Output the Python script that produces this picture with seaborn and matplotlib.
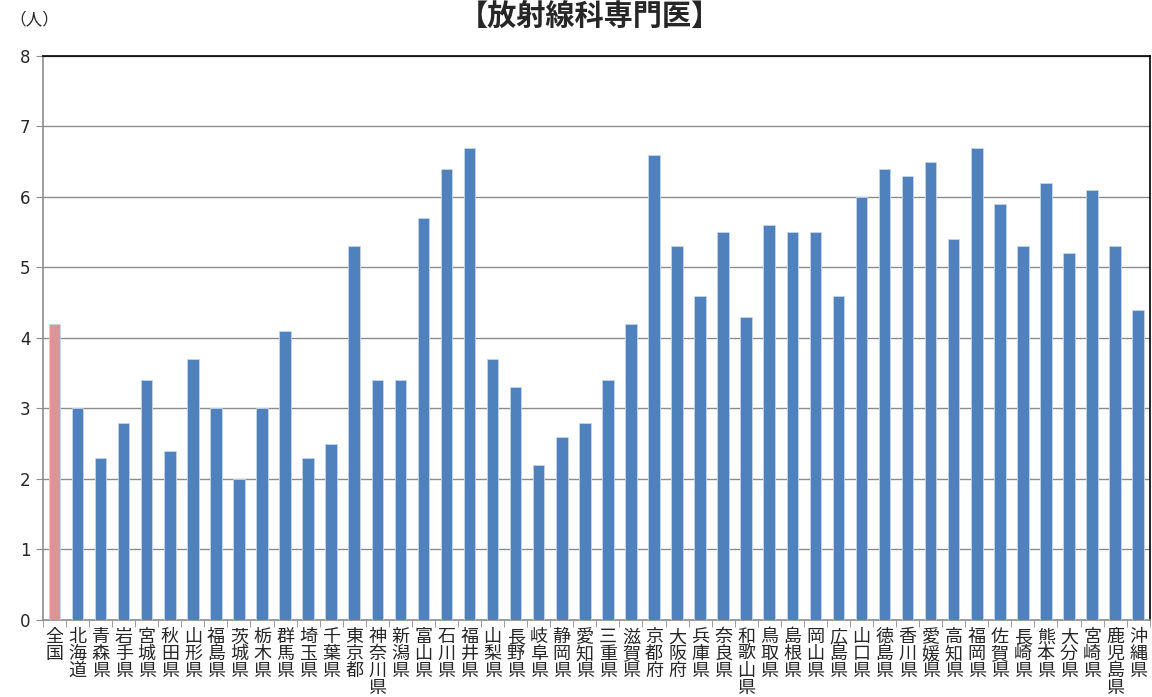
import numpy as np
import pandas as pd
import seaborn as sns
import matplotlib.pyplot as plt
from matplotlib.ticker import FixedLocator

# prefectures (全国 first)
prefs = ['全国', '北海道', '青森県', '岩手県', '宮城県', '秋田県', '山形県', '福島県',
         '茨城県', '栃木県', '群馬県', '埼玉県', '千葉県', '東京都', '神奈川県', '新潟県',
         '富山県', '石川県', '福井県', '山梨県', '長野県', '岐阜県', '静岡県', '愛知県',
         '三重県', '滋賀県', '京都府', '大阪府', '兵庫県', '奈良県', '和歌山県', '鳥取県',
         '島根県', '岡山県', '広島県', '山口県', '徳島県', '香川県', '愛媛県', '高知県',
         '福岡県', '佐賀県', '長崎県', '熊本県', '大分県', '宮崎県', '鹿児島県', '沖縄県']
vals = [4.2, 3.0, 2.3, 2.8, 3.4, 2.4, 3.7, 3.0,
        2.0, 3.0, 4.1, 2.3, 2.5, 5.3, 3.4, 3.4,
        5.7, 6.4, 6.7, 3.7, 3.3, 2.2, 2.6, 2.8,
        3.4, 4.2, 6.6, 5.3, 4.6, 5.5, 4.3, 5.6,
        5.5, 5.5, 4.6, 6.0, 6.4, 6.3, 6.5, 5.4,
        6.7, 5.9, 5.3, 6.2, 5.2, 6.1, 5.3, 4.4]

df = pd.DataFrame({'pref': prefs, 'val': vals})
df['grp'] = ['all' if p == '全国' else 'pref' for p in prefs]

sns.set_style('white')
plt.rcParams['font.family'] = ['Noto Sans CJK JP', 'DejaVu Sans']

fig = plt.figure(figsize=(11.52, 6.97), dpi=100)
ax = fig.add_axes([0.0373, 0.1105, 0.9607, 0.8092])

sns.barplot(data=df, x='pref', y='val', hue='grp',
            palette={'all': '#D99694', 'pref': '#4F81BD'}, saturation=1,
            width=0.5, dodge=False, legend=False, ax=ax,
            edgecolor='#C6D5EA', linewidth=0.6, zorder=3)

ax.set_ylim(0, 8)
ax.set_xlim(-0.5, len(prefs) - 0.5)
ax.set_yticks(range(0, 9))
ax.yaxis.grid(True, color='#8C8C8C', linewidth=1.0, zorder=0)
ax.set_xlabel('')
ax.set_ylabel('')

ax.set_xticks(range(len(prefs)))
ax.set_xticklabels(['\n'.join(p) for p in prefs], fontsize=13,
                   linespacing=0.92, va='top')
ax.tick_params(axis='x', which='major', length=0, pad=6)
ax.xaxis.set_minor_locator(FixedLocator(np.arange(-0.5, len(prefs), 1.0)))
ax.tick_params(axis='x', which='minor', length=5, color='#8C8C8C', bottom=True)
ax.tick_params(axis='y', length=5, color='#8C8C8C', left=True, labelsize=12, pad=4)
for lab in ax.get_yticklabels():
    lab.set_family('DejaVu Sans')

for side in ['left', 'bottom']:
    ax.spines[side].set_color('#8C8C8C')
    ax.spines[side].set_linewidth(1.2)
for side in ['top', 'right']:
    ax.spines[side].set_color('black')
    ax.spines[side].set_linewidth(1.2)

fig.text(0.512, 0.976, '【放射線科専門医】', ha='center', va='center',
         fontsize=21, fontweight='bold')
fig.text(0.008, 0.972, '（人）', ha='left', va='center', fontsize=12)

fig.savefig('out.png', dpi=100)
